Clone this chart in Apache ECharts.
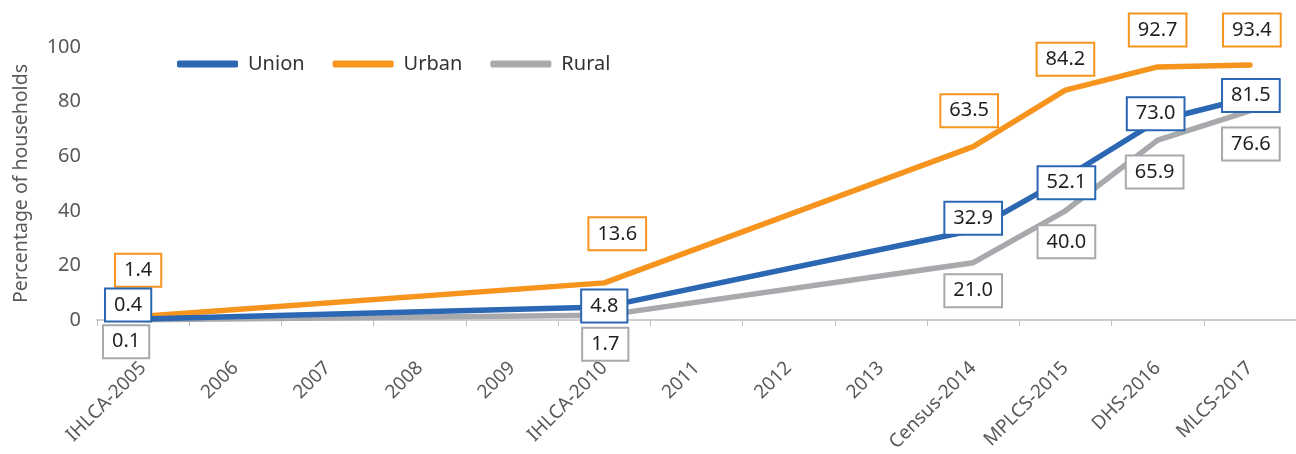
<!DOCTYPE html>
<html>
<head>
<meta charset="utf-8">
<script src="https://cdn.jsdelivr.net/npm/echarts@6/dist/echarts.min.js"></script>
<style>
  html, body { margin: 0; padding: 0; background: #fff; }
  #chart { width: 1296px; height: 454px; }
</style>
</head>
<body>
<div id="chart"></div>
<script>
// survey rounds, empty years have no value
var categories = ['IHLCA-2005', '2006', '2007', '2008', '2009', 'IHLCA-2010', '2011', '2012', '2013', 'Census-2014', 'MPLCS-2015', 'DHS-2016', 'MLCS-2017'];
var unionValues = [0.4, null, null, null, null, 4.8, null, null, null, 32.9, 52.1, 73.0, 81.5];
var urbanValues = [1.4, null, null, null, null, 13.6, null, null, null, 63.5, 84.2, 92.7, 93.4];
var ruralValues = [0.1, null, null, null, null, 1.7, null, null, null, 21.0, 40.0, 65.9, 76.6];
var yTicks = [0, 20, 40, 60, 80, 100];

// where each boxed label sits relative to its point
var unionOffsets = [[-15, -14], null, null, null, null, [0, -1], null, null, null, [0, -12], [1, 5], [-2, -7], [1, -2]];
var urbanOffsets = [[-5, -46], null, null, null, null, [13, -49], null, null, null, [-4, -36], [0, -31], [0, -37], [2, -35]];
var ruralOffsets = [[-17, 22], null, null, null, null, [1, 29], null, null, null, [0, 28], [1, 31], [-3, 32], [1, 33]];

var chart = echarts.init(document.getElementById('chart'));

function buildData(values, offsets) {
  var out = [];
  for (var i = 0; i < values.length; i++) {
    if (values[i] === null) { out.push(null); continue; }
    out.push({ value: values[i], label: { offset: offsets[i] } });
  }
  return out;
}

function makeSeries(name, color, values, offsets, z) {
  return {
    name: name,
    type: 'line',
    data: buildData(values, offsets),
    connectNulls: true,
    symbol: 'circle',
    symbolSize: 1,
    showSymbol: true,
    z: z,
    itemStyle: { color: color },
    lineStyle: { color: color, width: 5.5, cap: 'round', join: 'round' },
    label: {
      show: true,
      position: 'inside',
      formatter: function (p) { return p.value.toFixed(1); },
      color: '#231f20',
      fontSize: 20,
      lineHeight: 22,
      fontFamily: 'Noto Sans',
      backgroundColor: '#fff',
      borderColor: color,
      borderWidth: 2,
      padding: [5, 8, 4, 8]
    },
    emphasis: { disabled: true },
    animation: false
  };
}

var option = {
  animation: false,
  textStyle: { fontFamily: 'Noto Sans' },
  legend: {
    left: 172,
    top: 49,
    itemWidth: 61,
    itemHeight: 7,
    itemGap: 28,
    icon: 'roundRect',
    textStyle: { fontSize: 20, color: '#333', padding: [0, 0, 0, 5] },
    data: ['Union', 'Urban', 'Rural']
  },
  grid: { left: 97, right: 0, top: 47, bottom: 134, outerBoundsMode: 'none' },
  xAxis: {
    type: 'category',
    data: categories,
    boundaryGap: true,
    axisLine: { lineStyle: { color: '#bfbfbf', width: 1.5 } },
    axisTick: { show: true, length: 6, lineStyle: { color: '#bfbfbf' } },
    axisLabel: { rotate: 45, fontSize: 19, color: '#595959', margin: 45, interval: 0 }
  },
  yAxis: {
    type: 'value',
    min: yTicks[0],
    max: yTicks[yTicks.length - 1],
    interval: 20,
    name: 'Percentage of households',
    nameLocation: 'middle',
    nameGap: 66,
    nameTextStyle: { fontSize: 19.5, color: '#595959' },
    axisLine: { show: false },
    axisTick: { show: false },
    splitLine: { show: false },
    axisLabel: { fontSize: 20, color: '#595959', margin: 16 }
  },
  series: [
    makeSeries('Union', '#2b67b2', unionValues, unionOffsets, 3),
    makeSeries('Urban', '#f7941e', urbanValues, urbanOffsets, 2),
    makeSeries('Rural', '#a7a9ac', ruralValues, ruralOffsets, 2)
  ]
};

chart.setOption(option);
</script>
</body>
</html>
